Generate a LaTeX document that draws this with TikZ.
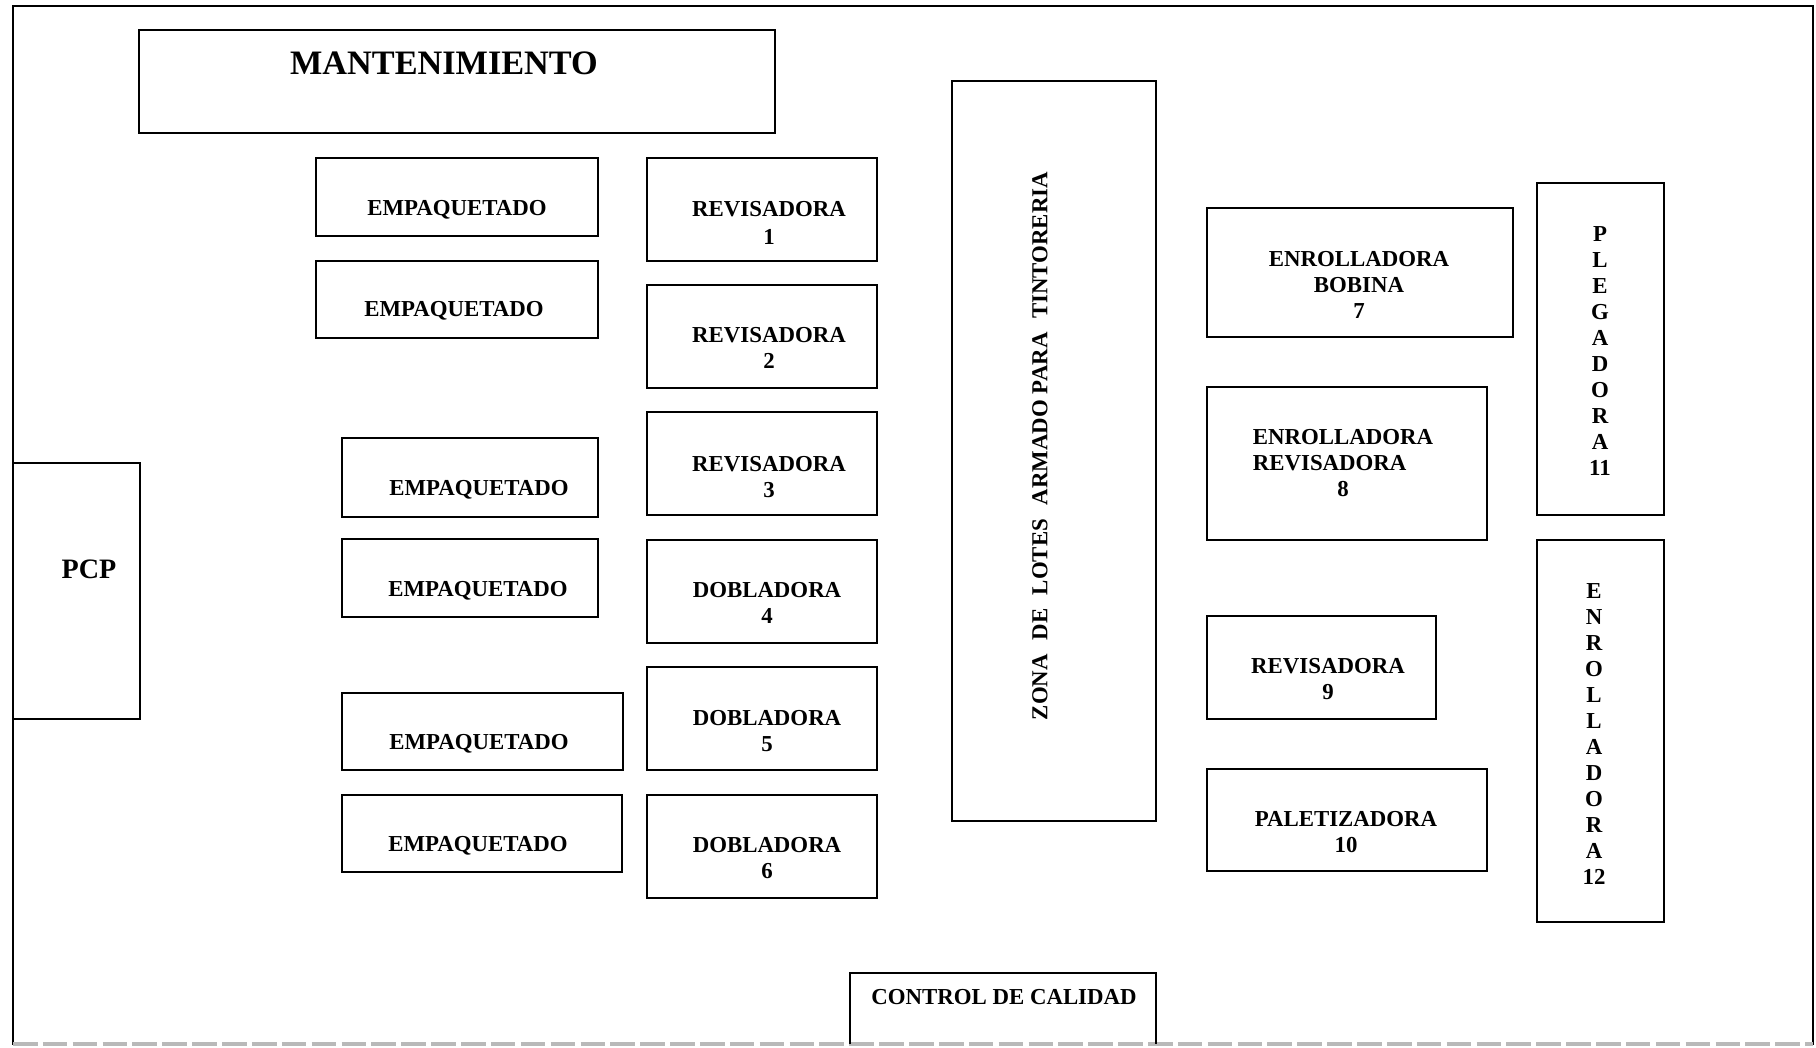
\documentclass[tikz,border=0pt]{standalone}
\usepackage{fontspec}
\setmainfont{Liberation Serif}
\begin{document}
\begin{tikzpicture}[x=0.02cm,y=-0.02cm,
  wall/.style={line width=1.5pt,line cap=rect},
  box/.style={line width=1.6pt},
  lbl/.style={inner sep=0pt,align=center,font=\fontsize{13}{14.8}\selectfont\bfseries},
  vlbl/.style={inner sep=0pt,align=center,font=\fontsize{13}{14.8}\selectfont\bfseries},
  big/.style={inner sep=0pt,font=\fontsize{19.5}{22}\selectfont\bfseries},
  pcp/.style={inner sep=0pt,font=\fontsize{16}{18}\selectfont\bfseries}]
\useasboundingbox (0,0) rectangle (1816,1048);

% outer walls
\draw[wall] (13,1044) -- (13,6) -- (1813,6) -- (1813,1044);
\draw[line width=1.8pt,gray!55,dash pattern=on 14pt off 3pt] (13,1044) -- (1813,1044);

% maintenance
\draw[box] (139,30) rectangle (775,133);
\node[big] (mant) at (444,63) {MANTENIMIENTO};

% PCP office against the left wall
\draw[box] (13,463) -- (140,463) -- (140,719) -- (13,719);
\node[pcp] (pcp) at (89,569) {PCP};

% packing stations
\draw[box] (316,158) rectangle (598,236);
\node[lbl] (emp1) at (457,210) {EMPAQUETADO};
\draw[box] (316,261) rectangle (598,338);
\node[lbl] (emp2) at (454,311) {EMPAQUETADO};
\draw[box] (342,438) rectangle (598,517);
\node[lbl] (emp3) at (479,490) {EMPAQUETADO};
\draw[box] (342,539) rectangle (598,617);
\node[lbl] (emp4) at (478,591) {EMPAQUETADO};
\draw[box] (342,693) rectangle (623,770);
\node[lbl] (emp5) at (479,744) {EMPAQUETADO};
\draw[box] (342,795) rectangle (622,872);
\node[lbl] (emp6) at (478,846) {EMPAQUETADO};

% inspection and folding machines
\draw[box] (647,158) rectangle (877,261);
\node[lbl,font=\fontsize{13}{16}\selectfont\bfseries] (rev1) at (769,223) {REVISADORA\\1};
\draw[box] (647,285) rectangle (877,388);
\node[lbl] (rev2) at (769,348) {REVISADORA\\2};
\draw[box] (647,412) rectangle (877,515);
\node[lbl] (rev3) at (769,477) {REVISADORA\\3};
\draw[box] (647,540) rectangle (877,643);
\node[lbl] (dob4) at (767,603) {DOBLADORA\\4};
\draw[box] (647,667) rectangle (877,770);
\node[lbl] (dob5) at (767,731) {DOBLADORA\\5};
\draw[box] (647,795) rectangle (877,898);
\node[lbl] (dob6) at (767,858) {DOBLADORA\\6};

% batch area
\draw[box] (952,81) rectangle (1156,821);
\node[lbl,rotate=90] (zona) at (1040,446) {ZONA\hspace{0.6em}DE\hspace{0.6em}LOTES\hspace{0.6em}ARMADO PARA\hspace{0.6em}TINTORERIA};

% right-hand machines
\draw[box] (1207,208) rectangle (1513,337);
\node[lbl] (enr7) at (1359,285) {ENROLLADORA\\BOBINA\\7};
\draw[box] (1207,387) rectangle (1487,540);
\node[inner sep=0pt,font=\fontsize{13}{14.8}\selectfont\bfseries] (enr8) at (1343,465)
  {\begin{tabular}{@{}l@{}}ENROLLADORA\\REVISADORA\\\multicolumn{1}{@{}c@{}}{8}\end{tabular}};
\draw[box] (1207,616) rectangle (1436,719);
\node[lbl] (rev9) at (1328,679) {REVISADORA\\9};
\draw[box] (1207,769) rectangle (1487,871);
\node[lbl] (pal10) at (1346,832) {PALETIZADORA\\10};

\draw[box] (1537,183) rectangle (1664,515);
\node[vlbl] (ple11) at (1600,351) {P\\L\\E\\G\\A\\D\\O\\R\\A\\11};
\draw[box] (1537,540) rectangle (1664,922);
\node[vlbl] (enr12) at (1594,734) {E\\N\\R\\O\\L\\L\\A\\D\\O\\R\\A\\12};

% quality control
\draw[box] (850,1044) -- (850,973) -- (1156,973) -- (1156,1044);
\node[lbl] (ctrl) at (1004,997) {CONTROL DE CALIDAD};
\end{tikzpicture}
\end{document}
